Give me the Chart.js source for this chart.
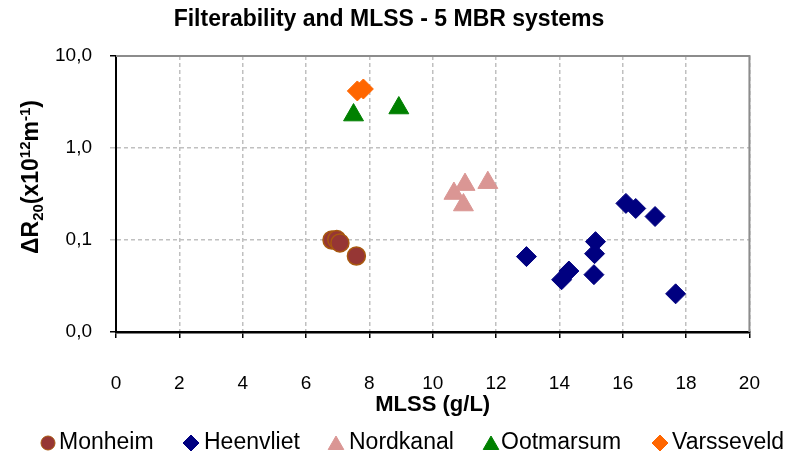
<!DOCTYPE html>
<html>
<head>
<meta charset="utf-8">
<script src="https://cdn.jsdelivr.net/npm/chart.js@4/dist/chart.umd.min.js"></script>
<style>
  html, body { margin: 0; padding: 0; background: #ffffff; }
  #wrap { width: 794px; height: 457px; position: relative; }
</style>
</head>
<body>
<div id="wrap"><canvas id="c" width="794" height="457"></canvas></div>
<script>
// Text
const FONT = '"Liberation Sans", Arial, Helvetica, sans-serif';
const chartTitle = 'Filterability and MLSS - 5 MBR systems';
const xAxisTitle = 'MLSS (g/L)';
const seriesNames = ['Monheim', 'Heenvliet', 'Nordkanal', 'Ootmarsum', 'Varsseveld'];

// Axis ticks
const xTickValues = [0, 2, 4, 6, 8, 10, 12, 14, 16, 18, 20];
const yTickValues = [0.01, 0.1, 1, 10];
const yTickLabels = ['0,0', '0,1', '1,0', '10,0'];

// MLSS (g/L) and filterability ΔR20 (x10^12 m^-1) per plant
const monheimX = [6.82, 6.97, 7.07, 7.59];
const monheimY = [0.100, 0.101, 0.093, 0.067];

const heenvlietX = [12.96, 14.07, 14.30, 15.09, 15.11, 15.14, 16.10, 16.41, 17.02, 17.67];
const heenvlietY = [0.066, 0.037, 0.046, 0.042, 0.071, 0.096, 0.25, 0.22, 0.18, 0.026];

const nordkanalX = [10.67, 10.97, 11.02, 11.74];
const nordkanalY = [0.32, 0.24, 0.40, 0.42];

const ootmarsumX = [7.50, 8.93];
const ootmarsumY = [2.28, 2.72];

const varsseveldX = [7.62, 7.81];
const varsseveldY = [4.17, 4.38];

const toPoints = (xs, ys) => xs.map((x, i) => ({ x: x, y: ys[i] }));

const datasets = [
  { label: seriesNames[0], data: toPoints(monheimX, monheimY),
    pointStyle: 'circle', pointRadius: 9, backgroundColor: '#963634', borderColor: '#A8580F', borderWidth: 1.5 },
  { label: seriesNames[1], data: toPoints(heenvlietX, heenvlietY),
    pointStyle: 'rectRot', pointRadius: 10, backgroundColor: '#000080', borderColor: '#000080', borderWidth: 1 },
  { label: seriesNames[2], data: toPoints(nordkanalX, nordkanalY),
    pointStyle: 'triangle', pointRadius: 11.5, backgroundColor: '#DA9694', borderColor: '#DA9694', borderWidth: 1 },
  { label: seriesNames[3], data: toPoints(ootmarsumX, ootmarsumY),
    pointStyle: 'triangle', pointRadius: 11.5, backgroundColor: '#008000', borderColor: '#008000', borderWidth: 1 },
  { label: seriesNames[4], data: toPoints(varsseveldX, varsseveldY),
    pointStyle: 'rectRot', pointRadius: 10, backgroundColor: '#FF6600', borderColor: '#FF6600', borderWidth: 1 }
];

// Legend layout along the bottom row
const legendMarkerX = [48, 191, 336, 491, 660];
const legendTextX = [59, 204, 349, 501, 672];

const GRID = '#C0C0C0';

// Gray frame on the top and right of the plot area
const frameLines = {
  id: 'frameLines',
  beforeDatasetsDraw(chart) {
    const { ctx, chartArea: a } = chart;
    ctx.save();
    ctx.strokeStyle = '#8C8C8C';
    ctx.lineWidth = 2;
    ctx.beginPath();
    ctx.moveTo(a.left, a.top);
    ctx.lineTo(a.right, a.top);
    ctx.lineTo(a.right, a.bottom);
    ctx.stroke();
    ctx.restore();
  }
};

// Titles and legend
const annotations = {
  id: 'annotations',
  afterDraw(chart) {
    const { ctx, chartArea: a } = chart;
    ctx.save();
    ctx.fillStyle = '#000';
    ctx.textBaseline = 'middle';

    // chart title
    ctx.font = 'bold 23px ' + FONT;
    ctx.textAlign = 'center';
    ctx.fillText(chartTitle, 389, 20);

    // x axis title
    ctx.font = 'bold 22px ' + FONT;
    ctx.fillText(xAxisTitle, (a.left + a.right) / 2, 405);

    // y axis title with sub/superscripts, rotated
    const parts = [
      { t: 'ΔR', s: 23, dy: 0 },
      { t: '20', s: 15, dy: 5 },
      { t: '(x10', s: 23, dy: 0 },
      { t: '12', s: 15, dy: -8 },
      { t: 'm', s: 23, dy: 0 },
      { t: '-1', s: 15, dy: -8 },
      { t: ')', s: 23, dy: 0 }
    ];
    let total = 0;
    parts.forEach(p => { ctx.font = 'bold ' + p.s + 'px ' + FONT; p.w = ctx.measureText(p.t).width; total += p.w; });
    ctx.translate(30, 177);
    ctx.rotate(-Math.PI / 2);
    ctx.textAlign = 'left';
    ctx.textBaseline = 'alphabetic';
    let cx = -total / 2;
    parts.forEach(p => {
      ctx.font = 'bold ' + p.s + 'px ' + FONT;
      ctx.fillText(p.t, cx, 8 + p.dy);
      cx += p.w;
    });
    ctx.setTransform(1, 0, 0, 1, 0, 0);

    // legend
    const ly = 443;
    chart.data.datasets.forEach((ds, i) => {
      ctx.fillStyle = ds.backgroundColor;
      ctx.strokeStyle = ds.borderColor;
      ctx.lineWidth = 1;
      const r = ds.pointStyle === 'circle' ? 7 : (ds.pointStyle === 'triangle' ? 9 : 8);
      Chart.helpers.drawPoint(ctx, { pointStyle: ds.pointStyle, radius: r, rotation: 0, borderWidth: 1 },
        legendMarkerX[i], ds.pointStyle === 'triangle' ? ly + 2 : ly);
      ctx.fillStyle = '#000';
      ctx.font = '23px ' + FONT;
      ctx.textAlign = 'left';
      ctx.textBaseline = 'middle';
      ctx.fillText(ds.label, legendTextX[i], ly);
    });
    ctx.restore();
  }
};

new Chart(document.getElementById('c'), {
  type: 'scatter',
  data: { datasets: datasets },
  options: {
    responsive: false,
    animation: false,
    devicePixelRatio: 1,
    layout: { padding: { left: 0, top: 56, right: 40, bottom: 55 } },
    plugins: {
      legend: { display: false },
      title: { display: false },
      tooltip: { enabled: false }
    },
    scales: {
      x: {
        type: 'linear',
        min: 0, max: 20,
        afterFit: s => { s.height = 70; },
        afterBuildTicks: s => { s.ticks = xTickValues.map(v => ({ value: v })); },
        ticks: {
          font: { family: FONT, size: 19 }, color: '#000', padding: 34,
          maxRotation: 0, autoSkip: false,
          callback: v => String(v)
        },
        grid: { color: GRID, lineWidth: 1.5, tickColor: '#000', tickLength: 6, tickWidth: 1.5 },
        border: { color: '#000', width: 2.5, dash: [4, 3] }
      },
      y: {
        type: 'logarithmic',
        min: 0.01, max: 10,
        afterFit: s => { s.width = 116; },
        afterBuildTicks: s => { s.ticks = yTickValues.map(v => ({ value: v })); },
        ticks: {
          font: { family: FONT, size: 19 }, color: '#000', padding: 18,
          autoSkip: false,
          callback: v => yTickLabels[yTickValues.indexOf(v)]
        },
        grid: {
          color: GRID, lineWidth: 1.5, tickLength: 6, tickWidth: 1.5,
          tickColor: ctx => (ctx.index === 0 || ctx.index === yTickValues.length - 1) ? '#000' : GRID
        },
        border: { color: '#000', width: 2, dash: [4, 3] }
      }
    }
  },
  plugins: [frameLines, annotations]
});
</script>
</body>
</html>
